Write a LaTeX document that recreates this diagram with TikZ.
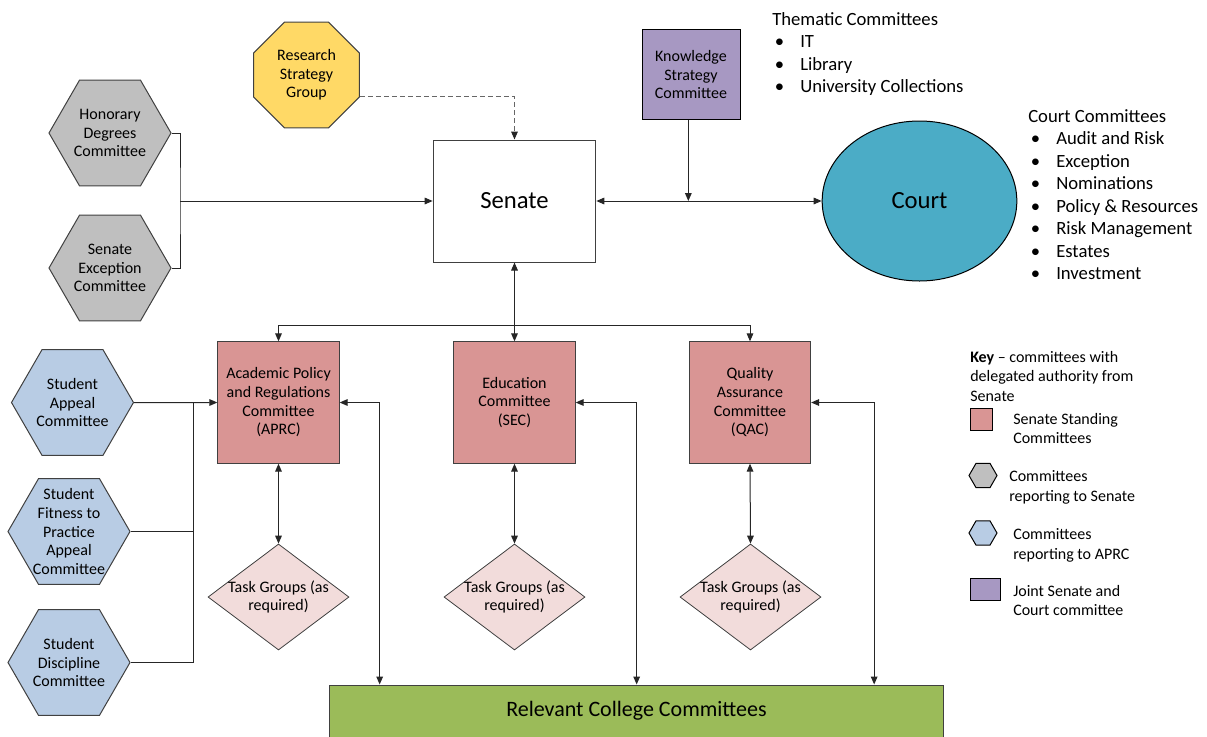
\documentclass[tikz,border=0pt]{standalone}
\usepackage{fontspec}
\setmainfont{Carlito}
\usetikzlibrary{arrows.meta,shapes.geometric,calc}

\definecolor{hexgrey}{RGB}{191,191,191}
\definecolor{hexblue}{RGB}{184,204,228}
\definecolor{octyellow}{RGB}{255,217,102}
\definecolor{jointpurple}{RGB}{167,152,194}
\definecolor{standred}{RGB}{217,149,148}
\definecolor{taskpink}{RGB}{242,220,219}
\definecolor{courtteal}{RGB}{75,172,198}
\definecolor{collgreen}{RGB}{155,187,89}
\definecolor{edge}{RGB}{64,64,64}

\newcommand{\bitem}[1]{\makebox[21pt][l]{\hspace{2pt}\textbullet}#1}

\tikzset{
  nodetext/.style={font=\fontsize{12}{14}\selectfont, align=center, text=black},
  hexa/.style={regular polygon, regular polygon sides=6, draw=edge, line width=0.75pt,
    minimum size=91.5pt, inner sep=-6pt, nodetext},
  standing/.style={rectangle, draw=edge, line width=0.75pt, fill=standred,
    minimum width=91pt, minimum height=91pt, nodetext},
  taskgroup/.style={diamond, draw=edge, line width=0.6pt, fill=taskpink, aspect=1.33,
    minimum width=105.75pt, minimum height=79.5pt, inner sep=-4pt, nodetext},
  listtext/.style={font=\fontsize{14}{16.9}\selectfont, align=left, anchor=north west, inner sep=0pt},
  keytext/.style={font=\fontsize{12}{14.6}\selectfont, align=left, anchor=west, inner sep=0pt},
  arr/.style={draw=black!85, line width=0.75pt, -{Triangle[length=6pt,width=5pt]}},
  dbl/.style={draw=black!85, line width=0.75pt, {Triangle[length=6pt,width=5pt]}-{Triangle[length=6pt,width=5pt]}},
  plain/.style={draw=black!85, line width=0.75pt},
}

\begin{document}
\begin{tikzpicture}[x=0.75pt, y=-0.75pt]
    \useasboundingbox (0,0) rectangle (1207,736);

    % Senate and Court
    \node[rectangle, draw=edge, line width=0.75pt, minimum width=122pt, minimum height=91.5pt,
      font=\fontsize{18.5}{22}\selectfont] (senate) at (514.5,201) {Senate};
    \node[ellipse, draw=black, line width=0.75pt, fill=courtteal, minimum width=146pt, minimum height=120pt,
      font=\fontsize{18.5}{22}\selectfont] (court) at (919.5,201) {Court};

    % Groups feeding Senate
    \node[regular polygon, regular polygon sides=8, draw=edge, line width=0.75pt, fill=octyellow,
      minimum size=86pt, inner sep=-6pt, nodetext] (rsg) at (306.5,75) {Research\\Strategy\\Group};
    \node[rectangle, draw=black, line width=0.75pt, fill=jointpurple, minimum width=73.5pt,
      minimum height=68pt, nodetext] (ksc) at (691,74.5) {Knowledge\\Strategy\\Committee};
    \node[hexa, fill=hexgrey] (hon) at (110,133) {Honorary\\Degrees\\Committee};
    \node[hexa, fill=hexgrey] (sex) at (110,268) {Senate\\Exception\\Committee};

    % Standing committees
    \node[standing] (aprc) at (278.5,402.5) {Academic Policy\\and Regulations\\Committee\\(APRC)};
    \node[standing] (sec) at (514.5,402.5) {Education\\Committee\\(SEC)};
    \node[standing] (qac) at (750,402.5) {Quality\\Assurance\\Committee\\(QAC)};

    % Task groups
    \node[taskgroup] (tgA) at (278.5,597) {Task Groups (as\\required)};
    \node[taskgroup] (tgS) at (514.5,597) {Task Groups (as\\required)};
    \node[taskgroup] (tgQ) at (750.5,597) {Task Groups (as\\required)};

    % Student committees
    \node[hexa, fill=hexblue] (sapp) at (72.5,402.5) {Student\\Appeal\\Committee};
    \node[hexa, fill=hexblue] (sfit) at (69,531.5) {Student\\Fitness to\\Practice\\Appeal\\Committee};
    \node[hexa, fill=hexblue] (sdis) at (69,662.5) {Student\\Discipline\\Committee};

    % College committees
    \node[rectangle, draw=edge, line width=0.75pt, fill=collgreen, minimum width=460pt, minimum height=39pt,
      font=\fontsize{16.5}{20}\selectfont] (college) at (636.5,711) {Relevant College Committees};

    % Lists of committees
    \node[listtext] (thematic) at (772,12) {Thematic Committees\\
      \bitem{IT}\\ \bitem{Library}\\ \bitem{University Collections}};
    \node[listtext] (courtlist) at (1028,109) {Court Committees\\
      \bitem{Audit and Risk}\\ \bitem{Exception}\\ \bitem{Nominations}\\ \bitem{Policy \& Resources}\\
      \bitem{Risk Management}\\ \bitem{Estates}\\ \bitem{Investment}};

    % Connectors into Senate
    \draw[draw=black!60, line width=0.75pt, dash pattern=on 3.5pt off 2.5pt,
      -{Triangle[length=6pt,width=5pt,color=black!85]}] ($(rsg.east)+(0,22)$) -| (senate.north);
    \coordinate (hsj) at (180,201);
    \draw[plain] (hon.east) -| (hsj) |- (sex.east);
    \draw[arr] (hsj) -- (senate.west);
    \draw[dbl] (senate.east) -- (court.west);
    \draw[arr] ([xshift=-2pt]ksc.south) -- ([xshift=-2pt]ksc.south |- senate.east);

    % Senate to standing committees
    \draw[dbl] (senate.south) -- (sec.north);
    \coordinate (split) at (514.5,325);
    \draw[arr] (split) -| (aprc.north);
    \draw[arr] (split) -| (qac.north);

    % Standing committees to task groups and colleges
    \foreach \c/\t/\d in {aprc/tgA/40, sec/tgS/61, qac/tgQ/63} {
        \draw[dbl] (\c.south) -- (\t.north);
        \draw[dbl] (\c.east) -- ++(\d,0) coordinate (\c R) -- (\c R |- college.north);
    }

    % Student committees to APRC
    \coordinate (sj) at (193,402.5);
    \draw[arr] (sapp.east) -- (aprc.west);
    \draw[plain] (sfit.east) -| (sj);
    \draw[plain] (sdis.east) -| (sj);

    % Key
    \node[keytext, anchor=north west] (keyhead) at (970,351) {\textbf{Key} – committees with\\delegated authority from\\Senate};
    \node[rectangle, draw=black, line width=0.75pt, fill=standred, minimum width=17pt, minimum height=16.5pt, inner sep=0pt] (keyred) at (981.5,419) {};
    \node[keytext] (keyredtx) at (1013,428.5) {Senate Standing\\Committees};
    \node[regular polygon, regular polygon sides=6, draw=black, line width=0.75pt, fill=hexgrey, minimum size=21pt, inner sep=0pt] (keygrey) at (983,475.5) {};
    \node[keytext] (keygreytx) at (1009,487.5) {Committees\\reporting to Senate};
    \node[regular polygon, regular polygon sides=6, draw=black, line width=0.75pt, fill=hexblue, minimum size=21pt, inner sep=0pt] (keyblue) at (983,533) {};
    \node[keytext] (keybluetx) at (1013,545.5) {Committees\\reporting to APRC};
    \node[rectangle, draw=black, line width=0.75pt, fill=jointpurple, minimum width=22.5pt, minimum height=17pt, inner sep=0pt] (keypurple) at (985,589.5) {};
    \node[keytext] (keypurpletx) at (1013,600.5) {Joint Senate and\\Court committee};
\end{tikzpicture}
\end{document}
